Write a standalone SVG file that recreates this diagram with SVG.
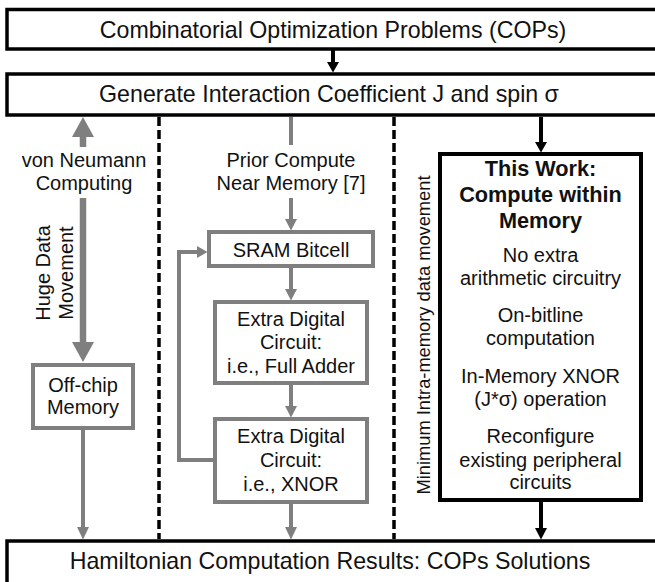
<svg xmlns="http://www.w3.org/2000/svg" width="655" height="582" viewBox="0 0 655 582">
<style>
text{font-family:"Liberation Sans",Arial,sans-serif;fill:#111;text-anchor:middle}
.big{font-size:23.2px}
.t{font-size:20px}
.b{font-size:21.7px;font-weight:bold}
.rot{font-size:18.3px}
.box{fill:#fff;stroke:#000;stroke-width:3.5}
.gbox{fill:#fff;stroke:#7f7f7f;stroke-width:4}
.bbox{fill:#fff;stroke:#000;stroke-width:4}
.gl{stroke:#7f7f7f;stroke-width:4;fill:none}
.gt{stroke:#7f7f7f;stroke-width:6.5;fill:none}
.bl{stroke:#000;stroke-width:4;fill:none}
.dash{stroke:#000;stroke-width:3.5;stroke-dasharray:9 4;fill:none}
.gh{fill:#7f7f7f}
.bh{fill:#000}
</style>
<rect width="655" height="582" fill="#fff"/>
<g id="cops">
<rect class="box" x="7" y="9.5" width="652" height="39.5"/>
<text class="big" x="333" y="37.5">Combinatorial Optimization Problems (COPs)</text>
</g>
<g id="generate">
<rect class="box" x="7" y="74" width="652" height="41"/>
<text class="big" x="329" y="102">Generate Interaction Coefficient J and spin σ</text>
</g>
<g id="results">
<rect class="box" x="7" y="541" width="652" height="50"/>
<text class="big" x="330" y="569">Hamiltonian Computation Results: COPs Solutions</text>
</g>
<g id="vonneumann-label">
<text class="t" x="84" y="167">von Neumann</text>
<text class="t" x="84" y="190">Computing</text>
</g>
<g id="huge-data-label">
<text class="t" transform="translate(50,273) rotate(-90)">Huge Data</text>
<text class="t" transform="translate(73,273) rotate(-90)">Movement</text>
</g>
<g id="offchip">
<rect class="gbox" x="33" y="365" width="100" height="63"/>
<text class="t" x="83" y="392">Off-chip</text>
<text class="t" x="83" y="414">Memory</text>
</g>
<g id="prior-label">
<text class="t" x="291" y="167">Prior Compute</text>
<text class="t" x="291" y="190">Near Memory [7]</text>
</g>
<g id="sram">
<rect class="gbox" x="209" y="232" width="164" height="34"/>
<text class="t" x="291" y="257">SRAM Bitcell</text>
</g>
<g id="fulladder">
<rect class="gbox" x="215" y="302" width="152" height="81"/>
<text class="t" x="291" y="326">Extra Digital</text>
<text class="t" x="291" y="349">Circuit:</text>
<text class="t" x="291" y="373">i.e., Full Adder</text>
</g>
<g id="xnor">
<rect class="gbox" x="215" y="419" width="152" height="83"/>
<text class="t" x="291" y="443">Extra Digital</text>
<text class="t" x="291" y="467">Circuit:</text>
<text class="t" x="291" y="491">i.e., XNOR</text>
</g>
<g id="minimum-label">
<text class="rot" transform="translate(430,335) rotate(-90)">Minimum Intra-memory data movement</text>
</g>
<g id="thiswork">
<rect class="bbox" x="440" y="154" width="201" height="346"/>
<text class="b" x="540.5" y="176">This Work:</text>
<text class="b" x="540.5" y="202">Compute within</text>
<text class="b" x="540.5" y="228">Memory</text>
<text class="t" x="540.5" y="262">No extra</text>
<text class="t" x="540.5" y="285">arithmetic circuitry</text>
<text class="t" x="540.5" y="322">On-bitline</text>
<text class="t" x="540.5" y="345">computation</text>
<text class="t" x="540.5" y="383">In-Memory XNOR</text>
<text class="t" x="540.5" y="406">(J*σ) operation</text>
<text class="t" x="540.5" y="443">Reconfigure</text>
<text class="t" x="540.5" y="467">existing peripheral</text>
<text class="t" x="540.5" y="489">circuits</text>
</g>
<g id="connectors">
<line class="bl" x1="333" y1="50" x2="333" y2="62"/>
<polygon class="bh" points="327,62 339,62 333,72.5"/>
<line class="gt" x1="83" y1="136" x2="83" y2="147"/>
<polygon class="gh" points="72,137 94,137 83,117"/>
<line class="gt" x1="83" y1="198" x2="83" y2="343"/>
<polygon class="gh" points="72,342 94,342 83,362"/>
<line class="gl" x1="83" y1="430" x2="83" y2="528"/>
<polygon class="gh" points="77,527 89,527 83,539.5"/>
<line class="dash" x1="159" y1="117" x2="159" y2="539"/>
<line class="dash" x1="394" y1="117" x2="394" y2="539"/>
<line class="gl" x1="291" y1="117" x2="291" y2="145"/>
<line class="gl" x1="291" y1="198" x2="291" y2="220"/>
<polygon class="gh" points="285,219 297,219 291,230.5"/>
<line class="gl" x1="291" y1="268" x2="291" y2="290"/>
<polygon class="gh" points="285,289 297,289 291,300.5"/>
<line class="gl" x1="291" y1="385" x2="291" y2="407"/>
<polygon class="gh" points="285,406 297,406 291,417.5"/>
<line class="gl" x1="291" y1="504" x2="291" y2="528"/>
<polygon class="gh" points="285,527 297,527 291,539.5"/>
<polyline class="gl" points="213,460 179,460 179,252 198,252"/>
<polygon class="gh" points="197,246 197,258 207.5,252"/>
<line class="bl" x1="541" y1="117" x2="541" y2="143"/>
<polygon class="bh" points="535,142 547,142 541,152.5"/>
<line class="bl" x1="541" y1="502" x2="541" y2="529"/>
<polygon class="bh" points="535,528 547,528 541,539.5"/>
</g>
</svg>
